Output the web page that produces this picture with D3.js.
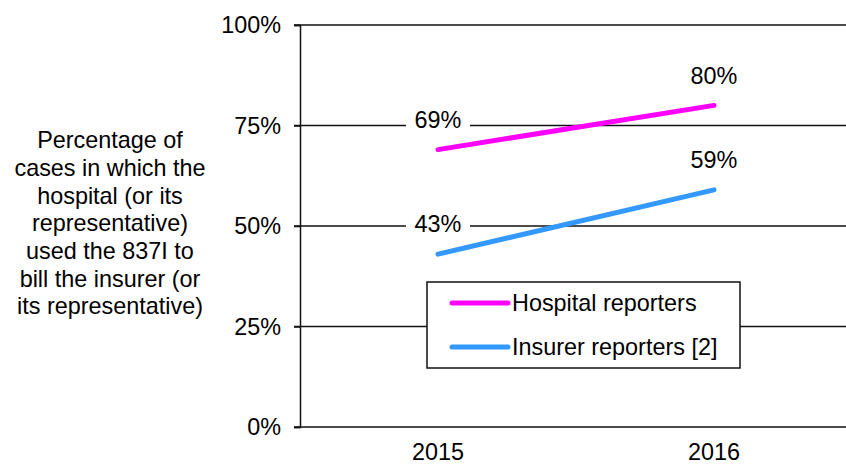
<!DOCTYPE html>
<html>
<head>
<meta charset="utf-8">
<script src="https://cdn.jsdelivr.net/npm/d3@7"></script>
<style>
  body { margin: 0; background: #fff; }
  text { font-family: "Liberation Sans", Arial, sans-serif; fill: #000; }
</style>
</head>
<body>
<div id="chart"></div>
<script>
// data
var years = ["2015", "2016"];
var hospitalValues = [69, 80];
var insurerValues = [43, 59];
var yTicks = [0, 25, 50, 75, 100];
var seriesNames = ["Hospital reporters", "Insurer reporters [2]"];
var seriesColors = ["#ff00ff", "#3399ff"];
var yTitleLines = ["Percentage of", "cases in which the", "hospital (or its",
  "representative)", "used the 837I to", "bill the insurer (or", "its representative)"];

var W = 846, H = 467;
var fontSize = "23.4px";
var margin = {top: 25, right: -6, bottom: 40, left: 300},
  width = W - margin.left - margin.right,
  height = H - margin.top - margin.bottom;

var svg = d3.select("#chart")
  .append("svg")
    .attr("width", W)
    .attr("height", H);

var g = svg.append("g")
  .attr("transform", "translate(" + margin.left + "," + margin.top + ")");

var x = d3.scaleBand()
  .range([0, width])
  .domain(years);

var y = d3.scaleLinear()
  .range([height, 0])
  .domain([0, 100]);

// gridlines (also serve as the top/bottom frame)
g.append("g")
  .selectAll("line")
  .data(yTicks)
  .enter()
  .append("line")
    .attr("x1", -6)
    .attr("x2", width)
    .attr("y1", function(d) { return y(d); })
    .attr("y2", function(d) { return y(d); })
    .style("stroke", "#111")
    .style("stroke-width", 1.5);

// left axis
var yAxis = g.append("g")
  .call(d3.axisLeft(y).tickValues(yTicks).tickSize(6).tickPadding(13)
    .tickFormat(function(d) { return d + "%"; }));
yAxis.select(".domain").style("stroke", "#111").style("stroke-width", 1.5);
yAxis.selectAll(".tick line").style("stroke", "#111").style("stroke-width", 1.5);
yAxis.selectAll("text")
  .style("font-size", fontSize)
  .style("font-family", "Liberation Sans, Arial, sans-serif")
  .attr("fill", "#000");

// bottom labels
var xAxis = g.append("g")
  .attr("transform", "translate(0," + height + ")")
  .call(d3.axisBottom(x).tickSize(0).tickPadding(16));
xAxis.select(".domain").remove();
xAxis.selectAll("text")
  .style("font-size", fontSize)
  .style("font-family", "Liberation Sans, Arial, sans-serif")
  .attr("fill", "#000");

var series = [hospitalValues, insurerValues];
var line = d3.line()
  .x(function(d, i) { return x(years[i]) + x.bandwidth() / 2; })
  .y(function(d) { return y(d); });

series.forEach(function(vals, s) {
  g.append("path")
    .datum(vals)
    .attr("d", line)
    .style("fill", "none")
    .style("stroke", seriesColors[s])
    .style("stroke-width", 5)
    .style("stroke-linecap", "round");
});

// data labels with white background
series.forEach(function(vals, s) {
  vals.forEach(function(v, i) {
    var cx = x(years[i]) + x.bandwidth() / 2;
    var cy = y(v) - 30;
    g.append("rect")
      .attr("x", cx - 32)
      .attr("y", cy - 13)
      .attr("width", 64)
      .attr("height", 26)
      .style("fill", "#fff");
    g.append("text")
      .attr("x", cx)
      .attr("y", cy)
      .attr("dy", "0.35em")
      .attr("text-anchor", "middle")
      .style("font-size", fontSize)
      .text(v + "%");
  });
});

// legend
var legend = svg.append("g").attr("transform", "translate(427,282)");
legend.append("rect")
  .attr("width", 313)
  .attr("height", 86)
  .style("fill", "#fff")
  .style("stroke", "#111")
  .style("stroke-width", 1.5);
seriesNames.forEach(function(name, i) {
  var ly = 21 + i * 44;
  legend.append("line")
    .attr("x1", 25).attr("x2", 81)
    .attr("y1", ly).attr("y2", ly)
    .style("stroke", seriesColors[i])
    .style("stroke-width", 5)
    .style("stroke-linecap", "round");
  legend.append("text")
    .attr("x", 85)
    .attr("y", ly)
    .attr("dy", "0.35em")
    .style("font-size", fontSize)
    .text(name);
});

// y title
var title = svg.append("text")
  .attr("text-anchor", "middle")
  .style("font-size", fontSize);
yTitleLines.forEach(function(t, i) {
  title.append("tspan")
    .attr("x", 110)
    .attr("y", 140 + i * 27.7)
    .attr("dy", "0.35em")
    .text(t);
});
</script>
</body>
</html>
